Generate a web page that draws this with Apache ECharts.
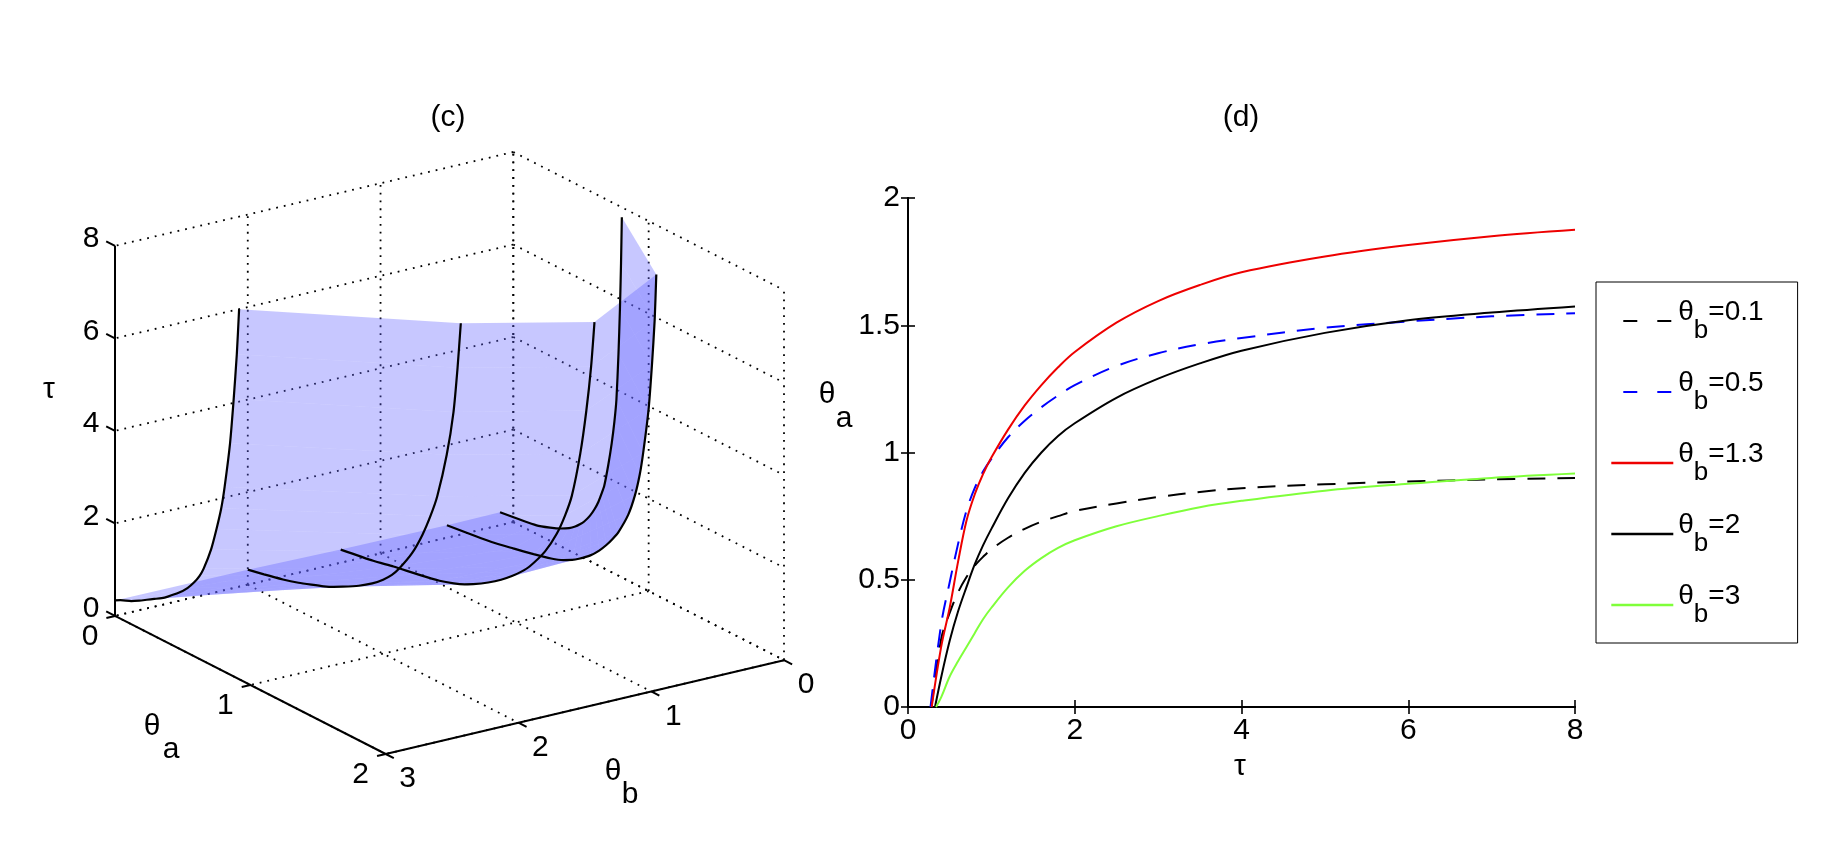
<!DOCTYPE html>
<html><head><meta charset="utf-8">
<script src="https://cdn.jsdelivr.net/npm/echarts@6.0.0/dist/echarts.min.js"></script>
<style>html,body{margin:0;padding:0;background:#fff}#c{width:1822px;height:852px}</style>
</head><body><div id="c"></div>
<script>
// ---------------- data ----------------
const THETA_B = [0.1, 0.5, 1.3, 2, 3];
const SERIES_NAMES = ['θb=0.1', 'θb=0.5', 'θb=1.3', 'θb=2', 'θb=3'];
const TAU_START = [0.28, 0.27, 0.284, 0.324, 0.336];   // tau where theta_a = 0
const TAU = [0.4, 0.5, 0.6, 0.7, 0.8, 0.9, 1.0, 1.2, 1.4, 1.6, 1.8, 2.0, 2.5, 3, 3.5, 4, 5, 6, 7, 8];
const THA_B01 = [0.27, 0.37, 0.45, 0.51, 0.555, 0.59, 0.62, 0.665, 0.70, 0.728, 0.75, 0.77, 0.80, 0.825, 0.845, 0.86, 0.875, 0.886, 0.894, 0.90];
const THA_B05 = [0.33, 0.49, 0.64, 0.77, 0.86, 0.925, 0.975, 1.06, 1.125, 1.178, 1.224, 1.265, 1.34, 1.39, 1.425, 1.45, 1.49, 1.515, 1.535, 1.547];
const THA_B13 = [0.24, 0.39, 0.57, 0.73, 0.835, 0.915, 0.98, 1.09, 1.185, 1.265, 1.335, 1.395, 1.51, 1.595, 1.658, 1.708, 1.77, 1.815, 1.85, 1.875];
const THA_B2  = [0.12, 0.26, 0.375, 0.47, 0.56, 0.635, 0.70, 0.82, 0.92, 1.00, 1.065, 1.115, 1.215, 1.29, 1.35, 1.40, 1.47, 1.52, 1.55, 1.574];
const THA_B3  = [0.04, 0.12, 0.18, 0.235, 0.29, 0.345, 0.39, 0.47, 0.535, 0.585, 0.625, 0.655, 0.71, 0.75, 0.785, 0.81, 0.85, 0.877, 0.90, 0.917];
const CURVES = [THA_B01, THA_B05, THA_B13, THA_B2, THA_B3];

const TICKS_TAU = [0, 2, 4, 6, 8];
const TICKS_THA = [0, 1, 2];
const TICKS_THB = [0, 1, 2, 3];
const RANGE_THA = [0, 2], RANGE_THB = [0, 3], RANGE_TAU = [0, 8];

// ---------------- styles ----------------
const FONT = '"Liberation Sans", Arial, Helvetica, sans-serif';
const COLORS = ['#000000', '#0000ff', '#ee0000', '#000000', '#7fff3a'];
const DASH = [[18, 12], [18, 12], 'solid', 'solid', 'solid'];
const SURF_FILL = 'rgba(100,100,255,0.36)';
const VIEW_AZ = 55.8, VIEW_EL = 20.3, BOX_ASPECT = [1, 1, 0.82];

// orthographic 3D view projection (data -> view plane units)
function project(a, b, t) {
  const X = (a - RANGE_THA[0]) / (RANGE_THA[1] - RANGE_THA[0]) * BOX_ASPECT[0];
  const Y = (b - RANGE_THB[0]) / (RANGE_THB[1] - RANGE_THB[0]) * BOX_ASPECT[1];
  const Z = (t - RANGE_TAU[0]) / (RANGE_TAU[1] - RANGE_TAU[0]) * BOX_ASPECT[2];
  const p = VIEW_AZ * Math.PI / 180, e = VIEW_EL * Math.PI / 180;
  return [X * Math.cos(p) - Y * Math.sin(p), -(X * Math.sin(p) + Y * Math.cos(p)) * Math.sin(e) + Z * Math.cos(e)];
}
let vxMin = Infinity, vxMax = -Infinity, vyMin = Infinity, vyMax = -Infinity;
RANGE_THA.forEach(a => RANGE_THB.forEach(b => RANGE_TAU.forEach(t => {
  const q = project(a, b, t);
  vxMin = Math.min(vxMin, q[0]); vxMax = Math.max(vxMax, q[0]);
  vyMin = Math.min(vyMin, q[1]); vyMax = Math.max(vyMax, q[1]);
})));

function vertex(c, k) {
  return k === 0 ? [0, THETA_B[c], TAU_START[c]] : [CURVES[c][k - 1], THETA_B[c], TAU[k - 1]];
}

// dotted grid on back walls and floor
const gridSegs = [];
TICKS_TAU.forEach(t => gridSegs.push([0, RANGE_THB[0], t, 0, RANGE_THB[1], t]));
TICKS_THB.forEach(b => gridSegs.push([0, b, RANGE_TAU[0], 0, b, RANGE_TAU[1]]));
TICKS_TAU.forEach(t => gridSegs.push([RANGE_THA[0], 0, t, RANGE_THA[1], 0, t]));
TICKS_THA.forEach(a => gridSegs.push([a, 0, RANGE_TAU[0], a, 0, RANGE_TAU[1]]));
TICKS_THA.forEach(a => gridSegs.push([a, RANGE_THB[0], 0, a, RANGE_THB[1], 0]));
TICKS_THB.forEach(b => gridSegs.push([RANGE_THA[0], b, 0, RANGE_THA[1], b, 0]));

// solid axes + ticks
const axisSegs = [
  [0, 3, 0, 0, 3, 8],
  [0, 3, 0, 2, 3, 0],
  [2, 3, 0, 2, 0, 0]
];
TICKS_TAU.forEach(t => axisSegs.push([0, 3, t, -0.065, 3, t]));
TICKS_THA.forEach(a => axisSegs.push([a, 3, 0, a, 3.065, 0]));
TICKS_THB.forEach(b => axisSegs.push([2, b, 0, 2.06, b, 0]));

const quads = [];
for (let c = 0; c < THETA_B.length - 1; c++) for (let k = 0; k < TAU.length; k++) quads.push([c, k]);

function segRenderer(style) {
  return function (params, api) {
    const p1 = api.coord(project(api.value(0), api.value(1), api.value(2)));
    const p2 = api.coord(project(api.value(3), api.value(4), api.value(5)));
    return { type: 'line', shape: { x1: p1[0], y1: p1[1], x2: p2[0], y2: p2[1] }, style: style };
  };
}
function labelRenderer(which, dx, dy) {
  return function (params, api) {
    const v = api.value(0);
    const pt = which === 't' ? project(0, 3, v) : which === 'a' ? project(v, 3, 0) : project(2, v, 0);
    const p = api.coord(pt);
    return { type: 'text', x: p[0] + dx, y: p[1] + dy,
      style: { text: String(v), fontSize: 30, fontFamily: FONT, fill: '#000',
        align: 'center', verticalAlign: 'middle', textAlign: 'center', textVerticalAlign: 'middle' } };
  };
}

const series = [];
series.push({ type: 'custom', name: 'grid3d', xAxisIndex: 0, yAxisIndex: 0, z: 1, silent: true,
  data: gridSegs, renderItem: segRenderer({ stroke: '#000', lineWidth: 1.8, lineDash: [1.8, 6] }) });
series.push({ type: 'custom', name: 'surface', xAxisIndex: 0, yAxisIndex: 0, z: 2, silent: true,
  data: quads,
  renderItem: function (params, api) {
    const c = api.value(0), k = api.value(1);
    const pts = [vertex(c, k), vertex(c + 1, k), vertex(c + 1, k + 1), vertex(c, k + 1)]
      .map(v => api.coord(project(v[0], v[1], v[2])));
    return { type: 'polygon', shape: { points: pts }, style: { fill: SURF_FILL, stroke: 'none', lineWidth: 0 } };
  } });
series.push({ type: 'custom', name: 'axes3d', xAxisIndex: 0, yAxisIndex: 0, z: 3, silent: true,
  data: axisSegs, renderItem: segRenderer({ stroke: '#000', lineWidth: 2 }) });
series.push({ type: 'custom', name: 'lblT', xAxisIndex: 0, yAxisIndex: 0, z: 5, silent: true,
  data: TICKS_TAU.map(v => [v]), renderItem: labelRenderer('t', -24, -7) });
series.push({ type: 'custom', name: 'lblA', xAxisIndex: 0, yAxisIndex: 0, z: 5, silent: true,
  data: TICKS_THA.map(v => [v]), renderItem: labelRenderer('a', -25, 21) });
series.push({ type: 'custom', name: 'lblB', xAxisIndex: 0, yAxisIndex: 0, z: 5, silent: true,
  data: TICKS_THB.map(v => [v]), renderItem: labelRenderer('b', 22, 25) });

// 3D curves
THETA_B.forEach((b, c) => {
  const pts = [project(0, b, TAU_START[c])].concat(TAU.map((t, i) => project(CURVES[c][i], b, t)));
  series.push({ type: 'line', name: 'c3d' + c, xAxisIndex: 0, yAxisIndex: 0, z: 4, silent: true,
    data: pts, symbol: 'none', smooth: 0.2, lineStyle: { color: '#000', width: 2.2 } });
});

// 2D curves (d)
THETA_B.forEach((b, c) => {
  const pts = [[TAU_START[c], 0]].concat(TAU.map((t, i) => [t, CURVES[c][i]]));
  series.push({ type: 'line', name: SERIES_NAMES[c], xAxisIndex: 1, yAxisIndex: 1, z: 3,
    data: pts, symbol: 'none', smooth: 0.35,
    itemStyle: { color: COLORS[c] },
    lineStyle: { color: COLORS[c], width: 2, type: DASH[c] } });
});

const axisLbl = { fontSize: 30, fontFamily: FONT, color: '#000' };
const axLine = { show: true, lineStyle: { color: '#000', width: 2 } };
const axTick = { show: true, inside: true, length: 7, lineStyle: { color: '#000', width: 1.6 } };

const txt = (x, y, s, size) => ({ type: 'text', x: x, y: y, silent: true,
  style: { text: s, fontSize: size || 30, fontFamily: FONT, fill: '#000',
    align: 'center', verticalAlign: 'middle', textAlign: 'center', textVerticalAlign: 'middle' } });

const legendData = SERIES_NAMES.map((n, c) => Array.isArray(DASH[c])
  ? { name: n, lineStyle: { type: [14, 20], dashOffset: 22, width: 2.2 } }
  : { name: n, lineStyle: { width: 2.6 } });

const option = {
  backgroundColor: '#ffffff',
  animation: false,
  grid: [
    { left: 115, top: 152, width: 669, height: 602, show: false, outerBoundsMode: 'none', containLabel: false },
    { left: 908, top: 198, width: 667, height: 509, show: false, outerBoundsMode: 'none', containLabel: false }
  ],
  xAxis: [
    { type: 'value', gridIndex: 0, min: vxMin, max: vxMax, show: false },
    { type: 'value', gridIndex: 1, min: 0, max: 8, interval: 2, position: 'bottom',
      axisLine: axLine, axisTick: axTick, splitLine: { show: false },
      axisLabel: Object.assign({ margin: 9 }, axisLbl) },
    { type: 'value', gridIndex: 1, min: 0, max: 8, interval: 2, position: 'top',
      axisLine: axLine, axisTick: axTick, splitLine: { show: false }, axisLabel: { show: false } }
  ],
  yAxis: [
    { type: 'value', gridIndex: 0, min: vyMin, max: vyMax, show: false },
    { type: 'value', gridIndex: 1, min: 0, max: 2, interval: 0.5, position: 'left',
      axisLine: axLine, axisTick: axTick, splitLine: { show: false },
      axisLabel: Object.assign({ margin: 8 }, axisLbl) },
    { type: 'value', gridIndex: 1, min: 0, max: 2, interval: 0.5, position: 'right',
      axisLine: axLine, axisTick: axTick, splitLine: { show: false }, axisLabel: { show: false } }
  ],
  legend: {
    data: legendData, orient: 'vertical', left: 1596, top: 282,
    padding: [16, 34, 15, 14], itemGap: 25, itemWidth: 62, itemHeight: 14,
    borderColor: '#000', borderWidth: 1, backgroundColor: '#fff', selectedMode: false,
    itemStyle: { opacity: 0, borderWidth: 0 },
    formatter: name => '{t|θ}{s|b}{t|' + name.slice(name.indexOf('=')) + '}',
    textStyle: { fontFamily: FONT, color: '#000', rich: {
      t: { fontSize: 28, fontFamily: FONT, color: '#000', lineHeight: 28, verticalAlign: 'top' },
      s: { fontSize: 26, fontFamily: FONT, color: '#000', lineHeight: 46, verticalAlign: 'bottom' }
    } }
  },
  graphic: [
    txt(448, 118, '(c)'), txt(1241, 118, '(d)'),
    txt(49, 390, 'τ'),
    txt(152, 727, 'θ'), txt(171, 750, 'a'),
    txt(613, 772, 'θ'), txt(630, 795, 'b'),
    txt(827, 395, 'θ'), txt(844, 419, 'a'),
    txt(1240, 767, 'τ')
  ],
  series: series
};
const chart = echarts.init(document.getElementById('c'));
chart.setOption(option);
</script></body></html>
